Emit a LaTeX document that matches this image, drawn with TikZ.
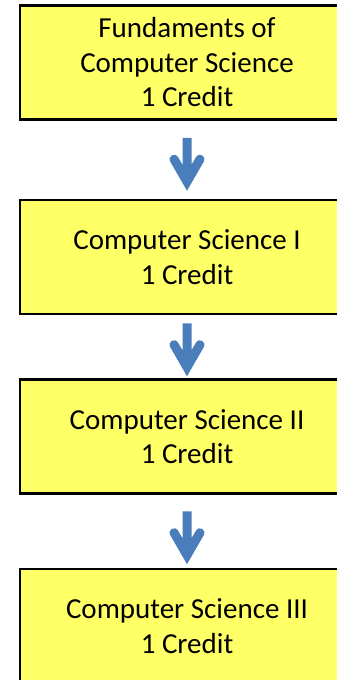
\documentclass[tikz,border=0pt]{standalone}
\usepackage{fontspec}
\setmainfont{Carlito}
\usetikzlibrary{calc}
\definecolor{boxyellow}{HTML}{FFFF66}
\definecolor{arrowblue}{HTML}{4A7EBB}
\begin{document}
\begin{tikzpicture}[x=1pt,y=-1pt,
  course/.style={draw=black, line width=2.5pt, fill=boxyellow,
    minimum width=334pt, minimum height=114pt, align=center,
    font=\fontsize{29}{34.5}\selectfont, inner sep=0pt},
  blockarrow/.pic={
    \fill[arrowblue] (-4.5,0) -- (4.5,0) -- (4.5,27)
      [rounded corners=4pt] -- (11.2,15.5) -- (19,20)
      [sharp corners] -- (0,53)
      [rounded corners=4pt] -- (-19,20) -- (-11.2,15.5)
      [sharp corners] -- (-4.5,27) -- cycle;
  }]
\useasboundingbox (0,0) rectangle (337,680);
\node[course] (b1) at (187,62.5) {Fundaments of\\Computer Science\\1 Credit};
\node[course] (b2) at (187,257) {Computer Science I\\1 Credit};
\node[course] (b3) at (187,436.5) {Computer Science II\\1 Credit};
\node[course] (b4) at (187,626) {Computer Science III\\1 Credit};
\pic at ($(b1.south)+(0,17)$) {blockarrow};
\pic at ($(b2.south)+(0,8)$) {blockarrow};
\pic at ($(b3.south)+(0,16.5)$) {blockarrow};
\end{tikzpicture}
\end{document}
